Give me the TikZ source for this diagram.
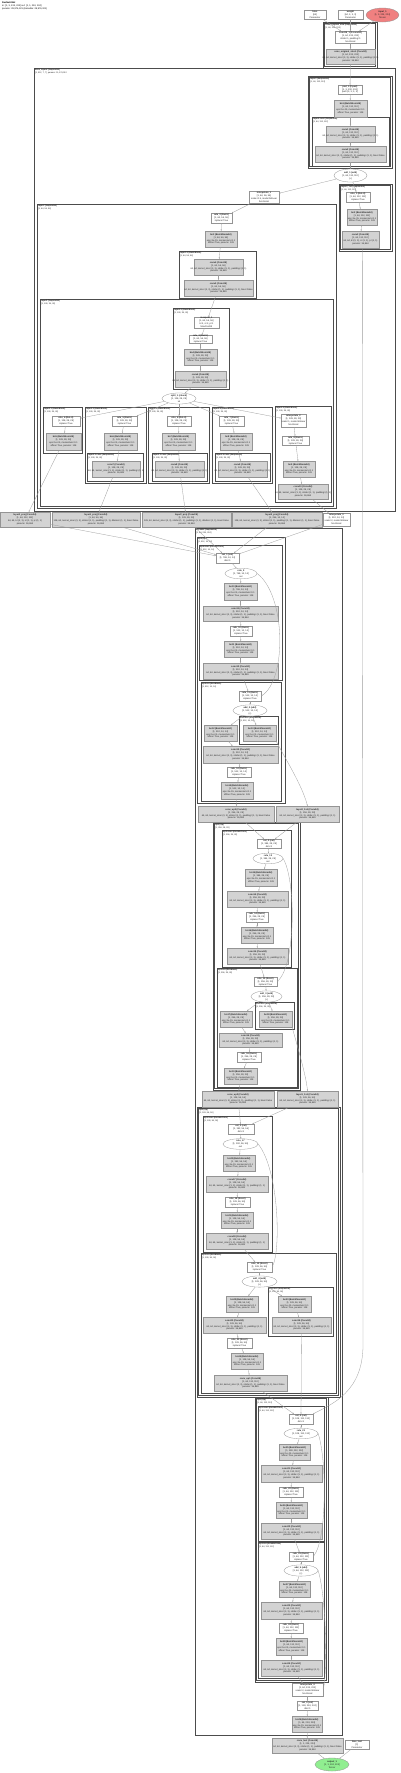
\documentclass[tikz,border=0pt]{standalone}
\usepackage{fontspec}
\setmainfont{Liberation Sans}
\usetikzlibrary{shapes.geometric,arrows.meta}
\definecolor{nodegray}{HTML}{D3D3D3}
\definecolor{redin}{HTML}{F08080}
\definecolor{greenout}{HTML}{90EE90}
\newcommand\nodefnt{\fontsize{2.3}{2.9}\selectfont}
\newcommand\clfnt{\fontsize{2.1}{2.5}\selectfont}
\newcommand\mk[1]{\makebox[0pt][c]{#1}}
\newcommand\tx[3]{\mk{\textbf{#1}}\\\mk{#2}\\\mk{#3}}
\newcommand\tq[4]{\mk{\textbf{#1}}\\\mk{#2}\\\mk{#3}\\\mk{#4}}
\newcommand\BN[2]{\tq{#1 (BatchNorm2d)}{#2}{eps=1e-05, momentum=0.1}{affine=True, params: 128}}
\newcommand\CV[3]{\tq{#1 (Conv2d)}{#2}{#3}{params: 36,864}}
\newcommand\RL[2]{\tx{#1 (ReLU)}{#2}{inplace=True}}
\newcommand\AD[2]{\tx{#1 (add)}{#2}{(+)}}
\newcommand\PL{64, 64, kernel\_size=(3, 3), stride=(1, 1), padding=(1, 1), bias=False}
\newcommand\PM{64, 64, kernel\_size=(3, 3), stride=(1, 1), padding=(1, 1)}
\newcommand\PS{64, 64, k=(3, 3), s=(1, 1), p=(1, 1)}
\newcommand\PX{128, 64, kernel\_size=(3, 3), stride=(1, 1), padding=(1, 1), dilation=(1, 1), bias=False}
\newcommand\nd[7][wbox]{\node[#1,minimum width={(#5-#3)*1pt},minimum height={(#6-#4)*1pt}] (#2) at ({(#3+#5)/2},{(#4+#6)/2}) {#7};}
\newcommand\cl[7]{\draw[clus] (#2,#3) rectangle (#4,#5);
  \node[clab] (#1) at ({#2+1},{#3+0.9}) {\textbf{#6}\\{}#7};}
\newcommand\cld[7]{\draw[clus] (#2,#3) rectangle (#4,#5);
  \draw[clus] ({#2+1.5},{#3+1.5}) rectangle ({#4-1.5},{#5-1.5});
  \node[clab] (#1) at ({#2+2.2},{#3+2.2}) {\textbf{#6}\\{}#7};}
\newcommand\ch[2]{\draw[ed] (#1) -- (#2);}
\begin{document}
\begin{tikzpicture}[x=1pt,y=-1pt,
  wbox/.style={draw=black!42,line width=0.3pt,fill=white,rectangle,inner sep=0pt,align=center,font=\nodefnt,text=black!85},
  gbox/.style={wbox,fill=nodegray},
  ell/.style={wbox,ellipse},
  redell/.style={ell,fill=redin},
  grnell/.style={ell,fill=greenout},
  clus/.style={draw=black!70,line width=0.5pt},
  clab/.style={anchor=north west,inner sep=0pt,align=left,font=\clfnt,text=black!85},
  ed/.style={draw=black!38,line width=0.3pt,-{Stealth[length=1.4pt,width=1.2pt]}}]
\fill[white] (0,0) rectangle (400,1773);
\useasboundingbox (0,0) rectangle (400,1773);
\node[anchor=north west,inner sep=0pt,align=left,font=\nodefnt] (title) at (2,1.5)
  {\textbf{ResNetUNet}\\{}in: [1, 3, 224, 224] out: [1, 1, 224, 224]\\{}params: 28,976,321 (trainable: 28,976,321)};
% ---------------- clusters
\cld{cz}{323}{22}{377}{68}{conv\_original\_size (Sequential)}{[1, 64, 224, 224]}
\cl{cbig}{34}{68}{395}{511}{base\_layers (Sequential)}{[1, 512, 7, 7], params: 11,176,512}
\cld{cA}{308}{76}{392}{168}{layer0 (Sequential)}{[1, 64, 112, 112]}
\cl{cB}{312}{117}{389}{166}{layer0.conv (Sequential)}{[1, 64, 112, 112]}
\cld{cC}{339}{184}{392}{251}{layer0\_1x1 (Sequential)}{[1, 64, 112, 112]}
\cl{cD}{37}{204}{336}{508}{layer1 (Sequential)}{[1, 64, 56, 56]}
\cl{cE}{179}{251}{256}{298}{layer1.0 (BasicBlock)}{[1, 64, 56, 56]}
\cl{cF}{40}{299}{333}{506}{layer2 (Sequential)}{[1, 128, 28, 28]}
\cl{cG}{173}{308}{229}{389}{layer2.0 (BasicBlock)}{[1, 128, 28, 28]}
\cl{cHa}{43}{407}{82}{453}{layer2.1 (BasicBlock)}{[1, 128, 28, 28]}
\cl{cHb}{85}{407}{146}{483}{layer2.2 (BasicBlock)}{[1, 128, 28, 28]}
\cl{cHbs}{87}{453}{143}{481}{layer2.2.conv (Sequential)}{[1, 128, 28, 28]}
\cl{cHc}{148}{407}{209}{483}{layer2.3 (BasicBlock)}{[1, 128, 28, 28]}
\cl{cHcs}{152}{453}{207}{481}{layer2.3.conv (Sequential)}{[1, 128, 28, 28]}
\cl{cHd}{212}{407}{272}{483}{layer2.4 (BasicBlock)}{[1, 128, 28, 28]}
\cl{cHds}{215}{453}{270}{481}{layer2.4.conv (Sequential)}{[1, 128, 28, 28]}
\cl{cHe}{275}{406}{331}{502}{layer2.5 (BasicBlock)}{[1, 128, 28, 28]}
\cl{cI}{195}{528}{342}{1735}{decoder (Sequential)}{[1, 64, 224, 224]}
\cl{cJ}{197}{537}{285}{803}{up4 (Up)}{[1, 512, 14, 14]}
\cl{cK}{199}{545}{282}{680}{up4.conv (DoubleConv)}{[1, 512, 14, 14]}
\cl{cL}{201}{682}{281}{801}{up4.res (ResBlock)}{[1, 512, 14, 14]}
\cl{cM}{239}{716}{278}{744}{shortcut (Sequential)}{[1, 512, 14, 14]}
\cld{cN}{213}{822}{300}{1090}{up3 (Up)}{[1, 256, 28, 28]}
\cl{cO}{222}{830}{291}{967}{up3.conv (DoubleConv)}{[1, 256, 28, 28]}
\cl{cP}{217}{968}{297}{1087}{up3.res (ResBlock)}{[1, 256, 28, 28]}
\cl{cQ}{255}{1002}{294}{1029}{shortcut (Sequential)}{[1, 256, 28, 28]}
\cld{cR}{197}{1107}{340}{1397}{up2 (Up)}{[1, 128, 56, 56]}
\cl{cS}{203}{1116}{272}{1252}{up2.conv (DoubleConv)}{[1, 128, 56, 56]}
\cl{cT}{201}{1253}{336}{1393}{up2.res (ResBlock)}{[1, 128, 56, 56]}
\cl{cU}{268}{1287}{333}{1336}{shortcut (Sequential)}{[1, 128, 56, 56]}
\cld{cV}{255}{1397}{328}{1682}{up1 (Up)}{[1, 64, 112, 112]}
\cl{cW}{258}{1406}{324}{1541}{up1.conv (DoubleConv)}{[1, 64, 112, 112]}
\cl{cX}{258}{1542}{324}{1678}{up1.res (DoubleConv)}{[1, 64, 112, 112]}
% ---------------- top nodes
\nd{ta1}{304}{10}{326}{19}{\tx{bias}{[64]}{Parameter}}
\nd{ta2}{338}{10}{363}{19}{\tx{weight}{[64, 3, 3, 3]}{Parameter}}
\nd[redell]{tin}{366}{8}{399}{22}{\tx{input\_1}{[1, 3, 224, 224]}{Tensor}}
\nd{z1}{335}{31}{366}{43}{\tq{conv2d\_1 (F.conv2d)}{[1, 64, 224, 224]}{stride=1, padding=1}{functional}}
\nd[gbox]{z2}{326}{49}{375}{64}{\CV{conv\_original\_size1}{[1, 64, 224, 224]}{\PM}}
\nd{a1}{338}{85}{362}{94}{\tx{pad\_1 (F.pad)}{[1, 3, 230, 230]}{pad=(3, 3, 3, 3)}}
\nd[gbox]{a2}{334}{100}{367}{117}{\BN{bn1}{[1, 64, 112, 112]}}
\nd[gbox]{b1}{326}{126}{375}{142}{\CV{conv1}{[1, 64, 112, 112]}{\PM}}
\nd[gbox]{b2}{315}{146}{386}{162}{\CV{conv2}{[1, 64, 112, 112]}{\PL}}
\nd[ell]{e1}{334}{169}{367}{182}{\AD{add\_1}{[1, 64, 112, 112]}}
\nd{c1}{346}{192}{370}{202}{\RL{relu\_1}{[1, 64, 112, 112]}}
\nd[gbox]{c2}{347}{209}{377}{225}{\BN{bn2}{[1, 64, 112, 112]}}
\nd[gbox]{c3}{342}{231}{379}{248}{\CV{conv3}{[1, 64, 112, 112]}{\PS}}
\nd{interp}{249}{191}{279}{203}{\tq{interpolate\_1}{[1, 64, 56, 56]}{scale=0.5, mode=bilinear}{functional}}
\nd{d1}{211}{213}{232}{223}{\RL{relu\_2}{[1, 64, 56, 56]}}
\nd[gbox]{d2}{205}{231}{237}{247}{\BN{bn3}{[1, 64, 56, 56]}}
\nd[gbox]{ea}{194}{259}{243}{275}{\CV{conv4}{[1, 64, 56, 56]}{\PM}}
\nd[gbox]{eb}{184}{280}{253}{296}{\CV{conv5}{[1, 64, 56, 56]}{\PL}}
\nd{g1}{194}{317}{219}{328}{\tq{maxpool\_1}{[1, 64, 56, 56]}{k=3, s=2, p=1}{MaxPool2d}}
\nd{g2}{189}{335}{212}{343}{\RL{relu\_3}{[1, 64, 56, 56]}}
\nd[gbox]{g3}{184}{349}{217}{365}{\BN{bn4}{[1, 128, 28, 28]}}
\nd[gbox]{g4}{175}{371}{226}{387}{\CV{conv6}{[1, 128, 28, 28]}{\PM}}
\nd[ell]{e2}{162}{393}{196}{404}{\tx{split\_1 (chunk)}{[1, 128, 28, 28]}{x5}}
\nd{ha1}{52}{416}{80}{426}{\RL{relu\_4}{[1, 128, 28, 28]}}
\nd[gbox]{ha2}{46}{433}{81}{450}{\BN{bn5}{[1, 128, 28, 28]}}
\nd{hb1}{112}{416}{137}{426}{\RL{relu\_5}{[1, 128, 28, 28]}}
\nd[gbox]{hb2}{104}{433}{137}{450}{\BN{bn6}{[1, 128, 28, 28]}}
\nd[gbox]{hb3}{92}{461}{140}{477}{\CV{conv7}{[1, 128, 28, 28]}{\PM}}
\nd{hc1}{167}{416}{191}{426}{\RL{relu\_6}{[1, 128, 28, 28]}}
\nd[gbox]{hc2}{162}{433}{195}{450}{\BN{bn7}{[1, 128, 28, 28]}}
\nd[gbox]{hc3}{155}{461}{204}{477}{\CV{conv8}{[1, 128, 28, 28]}{\PM}}
\nd{hd1}{219}{416}{244}{426}{\RL{relu\_7}{[1, 128, 28, 28]}}
\nd[gbox]{hd2}{220}{433}{252}{450}{\BN{bn8}{[1, 128, 28, 28]}}
\nd[gbox]{hd3}{218}{461}{267}{477}{\CV{conv9}{[1, 128, 28, 28]}{\PM}}
\nd{he1}{281}{414}{306}{427}{\tq{interpolate\_2}{[1, 128, 28, 28]}{scale=1, mode=bilinear}{functional}}
\nd{he2}{282}{436}{309}{445}{\RL{relu\_8}{[1, 128, 28, 28]}}
\nd[gbox]{he3}{283}{461}{315}{477}{\BN{bn9}{[1, 128, 28, 28]}}
\nd[gbox]{he4}{278}{484}{328}{499}{\CV{conv10}{[1, 128, 28, 28]}{\PM}}
\nd[gbox]{r1}{0}{512}{50}{527}{\CV{layer0\_proj}{[1, 64, 112, 112]}{\PS}}
\nd[gbox]{r2}{52}{512}{140}{527}{\CV{layer1\_proj}{[1, 64, 56, 56]}{\PX}}
\nd[gbox]{r3}{142}{512}{231}{527}{\CV{layer2\_proj}{[1, 128, 28, 28]}{\PX}}
\nd[gbox]{r4}{232}{512}{322}{527}{\CV{layer3\_proj}{[1, 256, 14, 14]}{\PX}}
\nd{r5}{323}{513}{350}{526}{\tq{interpolate\_3}{[1, 512, 14, 14]}{scale=2, mode=bilinear}{functional}}
% ---------------- decoder up4
\nd{k1}{216}{553}{239}{563}{\tx{cat\_1 (cat)}{[1, 768, 14, 14]}{dim=1}}
\nd[ell]{k2}{225}{569}{257}{578}{\tx{relu\_9}{[1, 768, 14, 14]}{out}}
\nd[gbox]{k3}{224}{583}{257}{600}{\BN{bn10}{[1, 768, 14, 14]}}
\nd[gbox]{k4}{203}{606}{278}{621}{\CV{conv11}{[1, 512, 14, 14]}{\PL}}
\nd{k5}{230}{626}{252}{636}{\RL{relu\_10}{[1, 512, 14, 14]}}
\nd[gbox]{k6}{224}{641}{257}{657}{\BN{bn11}{[1, 512, 14, 14]}}
\nd[gbox]{k7}{203}{663}{278}{679}{\CV{conv12}{[1, 512, 14, 14]}{\PL}}
\nd{l1}{239}{691}{261}{701}{\RL{relu\_11}{[1, 512, 14, 14]}}
\nd[ell]{l2}{233}{706}{267}{715}{\AD{add\_2}{[1, 512, 14, 14]}}
\nd[gbox]{l3}{204}{725}{237}{741}{\BN{bn12}{[1, 512, 14, 14]}}
\nd[gbox]{l4}{243}{725}{276}{741}{\BN{bn13}{[1, 512, 14, 14]}}
\nd[gbox]{l5}{203}{746}{278}{763}{\CV{conv13}{[1, 512, 14, 14]}{\PL}}
\nd{l6}{227}{767}{251}{777}{\RL{relu\_12}{[1, 512, 14, 14]}}
\nd[gbox]{l7}{221}{782}{253}{799}{\BN{bn14}{[1, 512, 14, 14]}}
\nd[gbox]{s1}{198}{806}{274}{822}{\CV{conv\_up3}{[1, 256, 28, 28]}{\PL}}
\nd[gbox]{s2}{276}{806}{339}{822}{\CV{layer2\_1x1}{[1, 256, 28, 28]}{\PM}}
% ---------------- up3
\nd{o1}{257}{839}{281}{848}{\tx{cat\_2 (cat)}{[1, 384, 28, 28]}{dim=1}}
\nd[ell]{o2}{253}{854}{283}{863}{\tx{relu\_13}{[1, 384, 28, 28]}{out}}
\nd[gbox]{o3}{245}{869}{277}{886}{\BN{bn15}{[1, 384, 28, 28]}}
\nd[gbox]{o4}{227}{891}{288}{907}{\CV{conv14}{[1, 256, 28, 28]}{\PM}}
\nd{o5}{246}{912}{268}{922}{\RL{relu\_14}{[1, 256, 28, 28]}}
\nd[gbox]{o6}{241}{927}{273}{943}{\BN{bn16}{[1, 256, 28, 28]}}
\nd[gbox]{o7}{227}{948}{288}{964}{\CV{conv15}{[1, 256, 28, 28]}{\PM}}
\nd{p1}{254}{977}{277}{986}{\RL{relu\_15}{[1, 256, 28, 28]}}
\nd[ell]{p2}{251}{992}{282}{1001}{\AD{add\_3}{[1, 256, 28, 28]}}
\nd[gbox]{p3}{220}{1011}{252}{1027}{\BN{bn17}{[1, 256, 28, 28]}}
\nd[gbox]{p4}{259}{1011}{292}{1027}{\BN{bn18}{[1, 256, 28, 28]}}
\nd[gbox]{p5}{219}{1033}{282}{1047}{\CV{conv16}{[1, 256, 28, 28]}{\PM}}
\nd{p6}{237}{1052}{261}{1062}{\RL{relu\_16}{[1, 256, 28, 28]}}
\nd[gbox]{p7}{224}{1068}{257}{1084}{\BN{bn19}{[1, 256, 28, 28]}}
\nd[gbox]{u1}{202}{1091}{274}{1107}{\CV{conv\_up2}{[1, 128, 56, 56]}{\PL}}
\nd[gbox]{u2}{277}{1091}{338}{1107}{\CV{layer1\_1x1}{[1, 128, 56, 56]}{\PM}}
% ---------------- up2
\nd{sa}{228}{1124}{254}{1134}{\tx{cat\_3 (cat)}{[1, 192, 56, 56]}{dim=1}}
\nd[ell]{sb}{223}{1139}{258}{1149}{\tx{relu\_17}{[1, 192, 56, 56]}{out}}
\nd[gbox]{sc}{223}{1155}{255}{1171}{\BN{bn20}{[1, 192, 56, 56]}}
\nd[gbox]{sd}{206}{1176}{268}{1192}{\CV{conv17}{[1, 128, 56, 56]}{\PM}}
\nd{se}{225}{1197}{250}{1207}{\RL{relu\_18}{[1, 128, 56, 56]}}
\nd[gbox]{sf}{221}{1212}{253}{1228}{\BN{bn21}{[1, 128, 56, 56]}}
\nd[gbox]{sg}{206}{1233}{268}{1249}{\CV{conv18}{[1, 128, 56, 56]}{\PM}}
\nd{tta}{247}{1262}{272}{1272}{\RL{relu\_19}{[1, 128, 56, 56]}}
\nd[ell]{ttb}{242}{1277}{277}{1286}{\AD{add\_4}{[1, 128, 56, 56]}}
\nd[gbox]{ttc}{226}{1296}{258}{1312}{\BN{bn22}{[1, 128, 56, 56]}}
\nd[gbox]{ttd}{278}{1296}{311}{1312}{\BN{bn23}{[1, 128, 56, 56]}}
\nd[gbox]{tte}{272}{1317}{331}{1333}{\CV{conv19}{[1, 128, 56, 56]}{\PM}}
\nd[gbox]{ttf}{203}{1317}{266}{1333}{\CV{conv20}{[1, 128, 56, 56]}{\PM}}
\nd{ttg}{227}{1338}{252}{1348}{\RL{relu\_20}{[1, 128, 56, 56]}}
\nd[gbox]{tth}{231}{1353}{263}{1369}{\BN{bn24}{[1, 128, 56, 56]}}
\nd[gbox]{tti}{214}{1375}{287}{1391}{\CV{conv\_up1}{[1, 64, 112, 112]}{\PL}}
% ---------------- up1
\nd{wa}{289}{1414}{313}{1424}{\tx{cat\_4 (cat)}{[1, 128, 112, 112]}{dim=1}}
\nd[ell]{wb}{284}{1429}{318}{1438}{\tx{relu\_21}{[1, 128, 112, 112]}{out}}
\nd[gbox]{wc}{279}{1444}{310}{1460}{\BN{bn25}{[1, 128, 112, 112]}}
\nd[gbox]{wd}{261}{1465}{322}{1482}{\CV{conv21}{[1, 64, 112, 112]}{\PM}}
\nd{we}{279}{1487}{303}{1497}{\RL{relu\_22}{[1, 64, 112, 112]}}
\nd[gbox]{wf}{276}{1502}{307}{1518}{\BN{bn26}{[1, 64, 112, 112]}}
\nd[gbox]{wg}{261}{1523}{322}{1539}{\CV{conv22}{[1, 64, 112, 112]}{\PM}}
\nd{xa}{289}{1552}{313}{1561}{\RL{relu\_23}{[1, 64, 112, 112]}}
\nd[ell]{xb}{284}{1566}{318}{1575}{\AD{add\_5}{[1, 64, 112, 112]}}
\nd[gbox]{xc}{279}{1581}{310}{1597}{\BN{bn27}{[1, 64, 112, 112]}}
\nd[gbox]{xd}{261}{1602}{322}{1619}{\CV{conv23}{[1, 64, 112, 112]}{\PM}}
\nd{xe}{279}{1623}{303}{1633}{\RL{relu\_24}{[1, 64, 112, 112]}}
\nd[gbox]{xf}{276}{1638}{307}{1655}{\BN{bn28}{[1, 64, 112, 112]}}
\nd[gbox]{xg}{261}{1660}{322}{1676}{\CV{conv24}{[1, 64, 112, 112]}{\PM}}
\nd{y1}{292}{1683}{323}{1696}{\tq{interpolate\_4}{[1, 64, 224, 224]}{scale=2, mode=bilinear}{functional}}
\nd{y2}{297}{1701}{318}{1710}{\tx{cat\_5 (cat)}{[1, 128, 224, 224]}{dim=1}}
\nd[gbox]{y3}{292}{1716}{322}{1732}{\BN{bn29}{[1, 64, 224, 224]}}
\nd[gbox]{zz1}{272}{1738}{343}{1753}{\CV{conv\_last}{[1, 1, 224, 224]}{\PL}}
\nd{zz2}{345}{1740}{369}{1749}{\tx{bias\_last}{[1]}{Parameter}}
\nd[grnell]{out}{315}{1758}{349}{1771}{\tx{output\_1}{[1, 1, 224, 224]}{Tensor}}
% ---------------- edges
\ch{ta1}{z1}\ch{ta2}{z1}\ch{tin}{z1}\ch{z1}{z2}\ch{z2}{a1}\ch{a1}{a2}\ch{a2}{b1}\ch{b1}{b2}\ch{b2}{e1}
\ch{e1}{interp}\ch{e1}{c1}\ch{c1}{c2}\ch{c2}{c3}
\ch{interp}{d1}\ch{d1}{d2}\ch{d2}{ea}\ch{ea}{eb}\ch{eb}{g1}\ch{g1}{g2}\ch{g2}{g3}\ch{g3}{g4}\ch{g4}{e2}
\ch{e2}{ha1}\ch{e2}{hb1}\ch{e2}{hc1}\ch{e2}{hd1}\ch{e2}{he1}
\ch{ha1}{ha2}\ch{hb1}{hb2}\ch{hb2}{hb3}\ch{hc1}{hc2}\ch{hc2}{hc3}\ch{hd1}{hd2}\ch{hd2}{hd3}
\ch{he1}{he2}\ch{he2}{he3}\ch{he3}{he4}
\ch{ha2}{r1}\ch{hb3}{r2}\ch{hc3}{r3}\ch{hd3}{r4}\ch{he4}{r5}
\ch{r1}{k1}\ch{r2}{k1}\ch{r3}{k1}\ch{r4}{k1}\ch{r5}{k1}
\ch{k1}{k2}\ch{k2}{k3}\ch{k3}{k4}\ch{k4}{k5}\ch{k5}{k6}\ch{k6}{k7}\ch{k7}{l1}
\draw[ed] (k2.east) .. controls (286,595) and (287,680) .. (l1.east);
\ch{l1}{l2}\ch{l2}{l3}\ch{l2}{l4}\ch{l3}{l5}\ch{l5}{l6}\ch{l6}{l7}\ch{l7}{s1}
\draw[ed] (l4.south east) .. controls (286,760) and (302,785) .. (s2.north);
\ch{s1}{o1}\ch{s2}{o1}
\ch{o1}{o2}\ch{o2}{o3}\ch{o3}{o4}\ch{o4}{o5}\ch{o5}{o6}\ch{o6}{o7}\ch{o7}{p1}
\draw[ed] (o2.east) .. controls (296,880) and (296,965) .. (p1.east);
\ch{p1}{p2}\ch{p2}{p3}\ch{p2}{p4}\ch{p3}{p5}\ch{p5}{p6}\ch{p6}{p7}\ch{p7}{u1}
\draw[ed] (p4.south east) .. controls (297,1045) and (306,1075) .. (u2.north);
\ch{u1}{sa}\ch{u2}{sa}
\ch{sa}{sb}\ch{sb}{sc}\ch{sc}{sd}\ch{sd}{se}\ch{se}{sf}\ch{sf}{sg}\ch{sg}{tta}
\draw[ed] (sb.east) .. controls (279,1170) and (281,1250) .. (tta.east);
\ch{tta}{ttb}\ch{ttb}{ttc}\ch{ttb}{ttd}\ch{ttd}{tte}\ch{ttc}{ttf}\ch{ttf}{ttg}\ch{ttg}{tth}\ch{tth}{tti}
\ch{tti}{wa}\ch{tte}{wa}
\coordinate (bend) at (363,1345);
\draw[ed] (c3.-78) -- (bend) .. controls (363,1392) and (332,1404) .. (wa.north east);
\ch{wa}{wb}\ch{wb}{wc}\ch{wc}{wd}\ch{wd}{we}\ch{we}{wf}\ch{wf}{wg}\ch{wg}{xa}
\draw[ed] (wb.east) .. controls (327,1460) and (327,1540) .. (xa.east);
\ch{xa}{xb}\ch{xb}{xc}\ch{xc}{xd}\ch{xd}{xe}\ch{xe}{xf}\ch{xf}{xg}\ch{xg}{y1}
\draw[ed] (xb.east) .. controls (327,1600) and (327,1676) .. (y1.east);
\ch{y1}{y2}\ch{y2}{y3}\ch{y3}{zz1}\ch{zz1}{out}\ch{zz2}{out}
\end{tikzpicture}
\end{document}
